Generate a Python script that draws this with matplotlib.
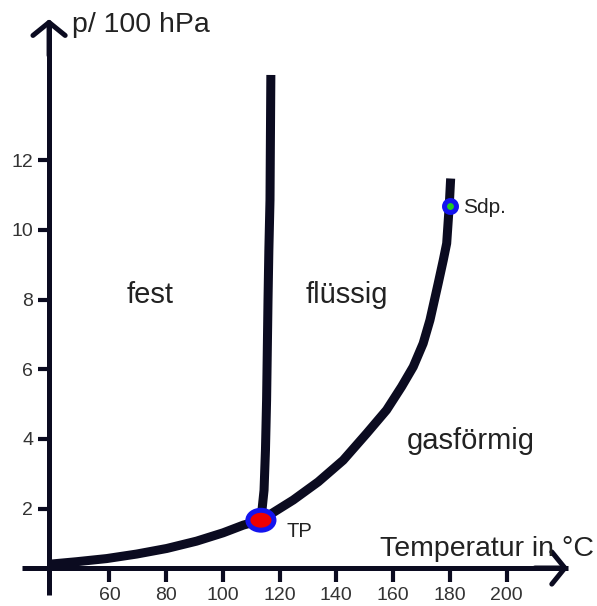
import numpy as np
import matplotlib.pyplot as plt
from matplotlib.patches import Ellipse

plt.rcParams['font.family'] = ['Liberation Sans', 'DejaVu Sans']

# values: T in °C, p in 100 hPa
subl_T = [39.0, 48.4, 59.0, 69.6, 80.2, 90.7, 100.1, 107.2, 113.4]
subl_p = [0.41, 0.48, 0.57, 0.70, 0.86, 1.07, 1.31, 1.53, 1.67]

vap_T = [113.4, 124.8, 133.6, 142.4, 150.7, 157.7, 163.0, 167.1, 170.6,
         173.0, 175.9, 177.7, 178.9, 179.8, 180.3]
vap_p = [1.67, 2.25, 2.77, 3.39, 4.16, 4.83, 5.50, 6.07, 6.74,
         7.41, 8.46, 9.13, 9.61, 10.69, 11.47]

melt_T = [113.4, 114.5, 115.0, 115.4, 115.9, 116.2, 116.6, 116.9]
melt_p = [1.67, 2.53, 3.68, 5.12, 7.98, 9.42, 10.85, 14.44]

tp = (113.4, 1.67)      # Tripelpunkt
sdp = (179.9, 10.69)    # Siedepunkt

xticks = [60, 80, 100, 120, 140, 160, 180, 200]
yticks = [2, 4, 6, 8, 10, 12]

line_col = '#0b0b20'
text_col = '#222222'

fig = plt.figure(figsize=(5.97, 6.06), dpi=100)
ax = fig.add_axes([0, 0, 1, 1])
ax.set_xlim(21.4, 231.9)
ax.set_ylim(-0.79, 16.59)

# axes drawn as spines crossing at (38.7, 0.30)
x0, y0 = 38.7, 0.30
for s in ['top', 'right']:
    ax.spines[s].set_visible(False)
ax.spines['left'].set_position(('data', x0))
ax.spines['bottom'].set_position(('data', y0))
ax.spines['left'].set_bounds(-0.48, 15.9)
ax.spines['bottom'].set_bounds(29.2, 221.5)
for s in ['left', 'bottom']:
    ax.spines[s].set_linewidth(3.6)
    ax.spines[s].set_color(line_col)
    ax.spines[s].set_capstyle('butt')

ax.set_xticks(xticks)
ax.set_yticks(yticks)
ax.tick_params(axis='both', direction='out', width=3, color=line_col,
               labelsize=14, labelcolor='#333333', pad=3.5)
ax.tick_params(axis='x', length=10)
ax.tick_params(axis='y', length=8)

# arrow heads
arrow = dict(arrowstyle='->,head_length=0.47,head_width=0.58', lw=3.6,
             color=line_col, shrinkA=0, shrinkB=0, mutation_scale=20)
ax.annotate('', xy=(x0, 16.04), xytext=(x0, 15.0), arrowprops=arrow)
ax.annotate('', xy=(221.7, y0), xytext=(210, y0), arrowprops=arrow)

# phase boundaries
kw = dict(color=line_col, lw=6.5, solid_capstyle='butt', solid_joinstyle='round')
ax.plot(subl_T, subl_p, **kw)
ax.plot(vap_T, vap_p, **kw)
ax.plot(melt_T, melt_p, **kw)

# triple point and boiling point markers
ax.add_patch(Ellipse(tp, 9.2, 0.57, facecolor='#ee0000', edgecolor='#1414ee',
                     lw=3.6, zorder=5))
ax.plot(*sdp, 'o', ms=8.6, mfc='#22cc22', mec='#1414ee', mew=3.6, zorder=5)

# labels
ax.text(46.8, 15.67, 'p/ 100 hPa', fontsize=20.5, color=text_col, va='baseline')
ax.text(155.4, 0.64, 'Temperatur in °C', fontsize=20.5, color=text_col, va='baseline')
ax.text(66.2, 7.90, 'fest', fontsize=21, color=text_col, va='baseline')
ax.text(129.0, 7.90, 'flüssig', fontsize=21, color=text_col, va='baseline')
ax.text(164.9, 3.71, 'gasförmig', fontsize=21, color=text_col, va='baseline')
ax.text(122.5, 1.19, 'TP', fontsize=14.5, color=text_col, va='baseline')
ax.text(184.8, 10.48, 'Sdp.', fontsize=15, color=text_col, va='baseline')

fig.savefig('out.png', dpi=100)
